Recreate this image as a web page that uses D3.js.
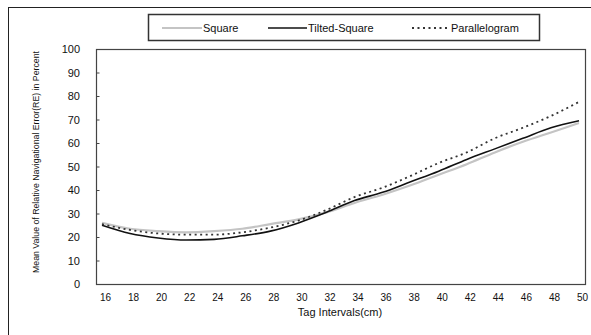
<!DOCTYPE html>
<html>
<head>
<meta charset="utf-8">
<script src="https://cdn.jsdelivr.net/npm/d3@7"></script>
<style>
  body { margin: 0; background: #fff; }
  svg { font-family: "Liberation Sans", Arial, sans-serif; }
</style>
</head>
<body>
<div id="chart"></div>
<script>
// tag intervals (cm)
const intervals = [16, 18, 20, 22, 24, 26, 28, 30, 32, 34, 36, 38, 40, 42, 44, 46, 48, 50];
// mean relative navigational error (%)
const square        = [26, 23.5, 22.5, 22, 22.5, 23.5, 25.5, 27.5, 30.5, 34.5, 38, 42, 46.5, 51, 56, 60.5, 64.5, 68.5];
const tiltedSquare  = [25, 21.5, 19.6, 18.7, 19, 20.5, 22.5, 26, 30.5, 35.5, 39, 43.5, 48, 53, 57.5, 62, 66.5, 69.5];
const parallelogram = [25.5, 23, 21.5, 21, 21, 22, 24, 27, 31.5, 37, 41, 46, 51.5, 56, 62, 66.5, 71.5, 77.5];
const yTicks = [0, 10, 20, 30, 40, 50, 60, 70, 80, 90, 100];
const seriesNames = ["Square", "Tilted-Square", "Parallelogram"];

const width = 591, height = 335;
const svg = d3.select("#chart").append("svg")
  .attr("width", width).attr("height", height);

// outer frame
svg.append("rect")
  .attr("x", 8.5).attr("y", 7.5).attr("width", 590).attr("height", 340)
  .attr("fill", "none").attr("stroke", "#222").attr("stroke-width", 1);

const plot = { left: 96, right: 585, top: 49, bottom: 284 };
const x = d3.scaleLinear().domain([16, 50]).range([102, 579]);
const y = d3.scaleLinear().domain([0, 100]).range([plot.bottom, plot.top]);

// plot border
svg.append("rect")
  .attr("x", plot.left + 0.5).attr("y", plot.top + 0.5)
  .attr("width", plot.right - plot.left).attr("height", plot.bottom - plot.top)
  .attr("fill", "none").attr("stroke", "#444").attr("stroke-width", 1.2);

// y axis (ticks inside)
const yAxis = svg.append("g")
  .attr("transform", `translate(${plot.left + 0.5},0)`)
  .call(d3.axisRight(y).tickValues(yTicks).tickSize(3).tickFormat(""));
yAxis.select(".domain").remove();
yAxis.selectAll("line").attr("stroke", "#444");
svg.selectAll(".ylab").data(yTicks).enter().append("text")
  .attr("class", "ylab")
  .attr("x", 80).attr("y", d => y(d)).attr("dy", "0.38em")
  .attr("text-anchor", "end").attr("font-size", 11).attr("fill", "#111")
  .text(d => d);

// x axis labels
const xAxis = svg.append("g")
  .attr("transform", `translate(0,${plot.bottom})`)
  .call(d3.axisBottom(x).tickValues(intervals).tickSize(0).tickPadding(10));
xAxis.select(".domain").remove();
xAxis.selectAll("text").attr("font-size", 10).attr("fill", "#111")
  .attr("font-family", "Liberation Sans, Arial, sans-serif")
  .attr("dx", 3);

// axis titles
svg.append("text")
  .attr("x", 340).attr("y", 316).attr("text-anchor", "middle")
  .attr("font-size", 11).attr("fill", "#111")
  .text("Tag Intervals(cm)");
svg.append("text")
  .attr("transform", "translate(39,162) rotate(-90)")
  .attr("text-anchor", "middle").attr("font-size", 8.5).attr("fill", "#111")
  .attr("textLength", 222).attr("lengthAdjust", "spacingAndGlyphs")
  .text("Mean Value of Relative Navigational Error(RE) in Percent");

// lines
const styles = [
  { stroke: "#c4c4c4", width: 2.2, dash: null },
  { stroke: "#111", width: 1.6, dash: null },
  { stroke: "#333", width: 1.8, dash: "2,3.5" }
];
const line = d3.line().x((d, i) => x(intervals[i])).y(d => y(d)).curve(d3.curveMonotoneX);
[square, tiltedSquare, parallelogram].forEach((vals, k) => {
  svg.append("path")
    .datum(vals)
    .attr("d", line)
    .attr("fill", "none")
    .attr("stroke", styles[k].stroke)
    .attr("stroke-width", styles[k].width)
    .attr("stroke-dasharray", styles[k].dash);
});

// legend
const legend = svg.append("g");
legend.append("rect")
  .attr("x", 148.5).attr("y", 14.5).attr("width", 391).attr("height", 26)
  .attr("fill", "#fff").attr("stroke", "#333").attr("stroke-width", 1.5);
const legendPos = [
  { x1: 162, x2: 202 },
  { x1: 268, x2: 307 },
  { x1: 412, x2: 450 }
];
seriesNames.forEach((name, k) => {
  legend.append("line")
    .attr("x1", legendPos[k].x1).attr("x2", legendPos[k].x2)
    .attr("y1", 28).attr("y2", 28)
    .attr("stroke", styles[k].stroke)
    .attr("stroke-width", styles[k].width)
    .attr("stroke-dasharray", styles[k].dash);
  legend.append("text")
    .attr("x", legendPos[k].x2 + 1).attr("y", 32)
    .attr("font-size", 11).attr("fill", "#111")
    .text(name);
});
</script>
</body>
</html>
